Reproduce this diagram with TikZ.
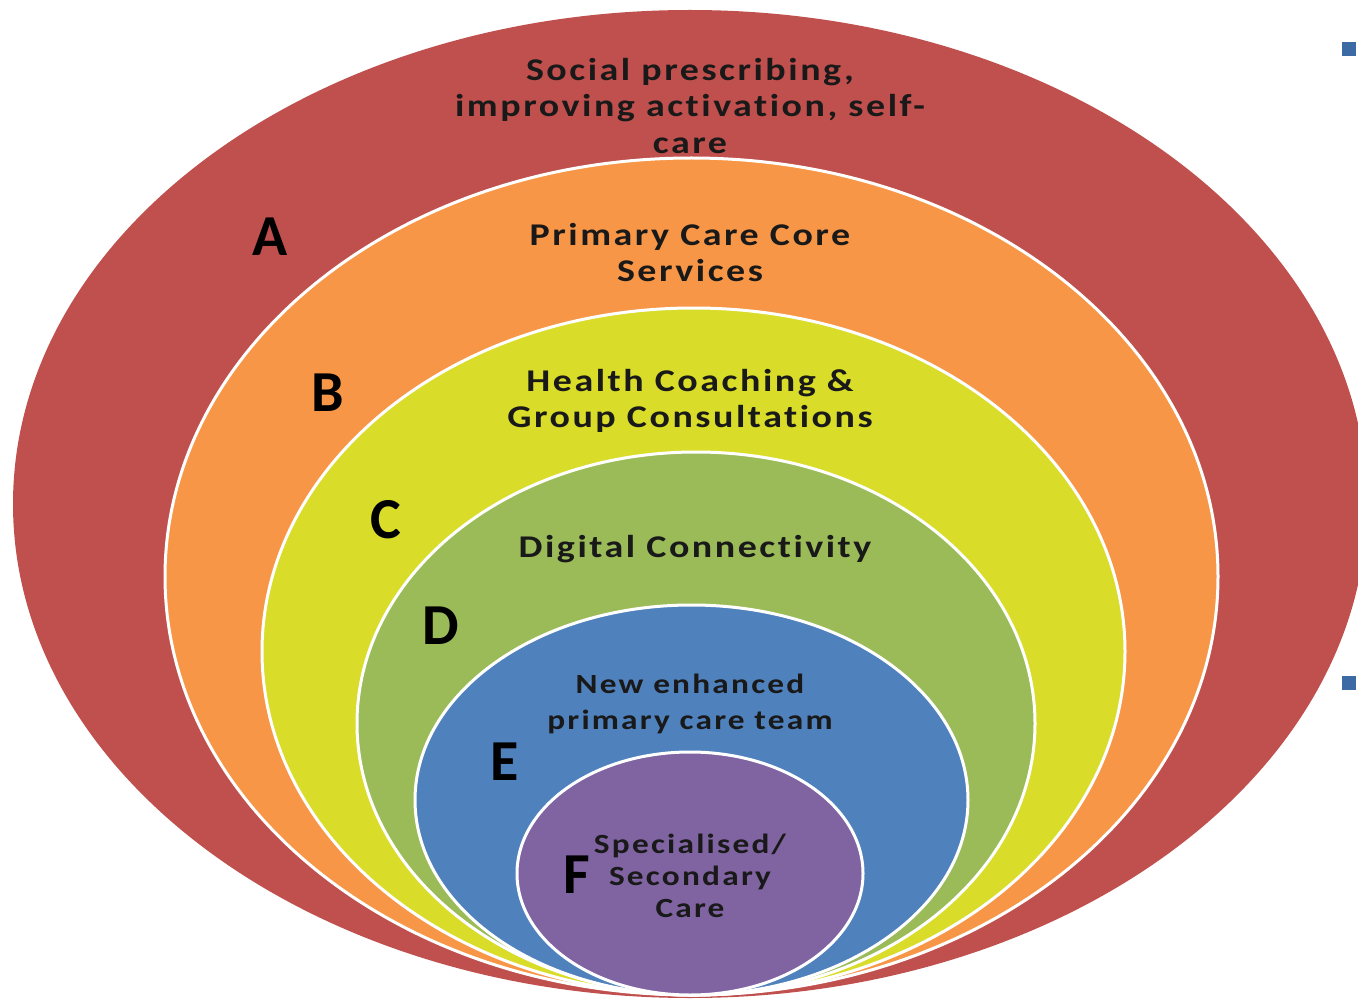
\documentclass[tikz,border=0pt]{standalone}
\usepackage{fontspec}
\setmainfont{Carlito}
\newfontfamily\capfont{Carlito}[FakeStretch=1.2, LetterSpace=8, Ligatures=NoCommon]
\definecolor{ringA}{HTML}{C0504D}
\definecolor{ringB}{HTML}{F79646}
\definecolor{ringC}{HTML}{D9DC28}
\definecolor{ringD}{HTML}{9BBB59}
\definecolor{ringE}{HTML}{4F81BD}
\definecolor{ringF}{HTML}{8064A2}
\definecolor{bullet}{HTML}{3C6AA4}
\tikzset{
  ring/.style={draw=white, line width=0.06cm},
  caption/.style={align=center, font=\capfont\bfseries\fontsize{18}{20.5}\selectfont, text=black!90, inner sep=0pt},
  letter/.style={font=\bfseries\fontsize{33}{36}\selectfont, inner sep=0pt}
}
\begin{document}
\begin{tikzpicture}
            \useasboundingbox (0,0) rectangle (27.160000,19.960000);
            \clip (0,0) rectangle (27.160000,19.960000);

            % Drawing ellipse A
            \fill [ringA] (13.800000,9.880000) ellipse (13.540000 and 9.880000);%

            % Drawing ellipse B
            \filldraw [ring, fill=ringB] (13.830000,8.430000) ellipse (10.530000 and 8.370000);%

            % Drawing ellipse C
            \filldraw [ring, fill=ringC] (13.870000,6.930000) ellipse (8.630000 and 6.870000);%

            % Drawing ellipse D
            \filldraw [ring, fill=ringD] (13.920000,5.490000) ellipse (6.780000 and 5.430000);%

            % Drawing ellipse E
            \filldraw [ring, fill=ringE] (13.830000,3.960000) ellipse (5.530000 and 3.900000);%

            % Drawing ellipse F
            \filldraw [ring, fill=ringF] (13.800000,2.490000) ellipse (3.460000 and 2.430000);%

            % Marking the captions
            \node [caption] (capA) at (13.800000,17.840000) {Social prescribing,\\ improving activation, self-\\ care};%
            \node [caption] (capB) at (13.800000,14.900000) {Primary Care Core\\ Services};%
            \node [caption] (capC) at (13.800000,11.950000) {Health Coaching \&\\ Group Consultations};%
            \node [caption] (capD) at (13.900000,8.980000) {Digital Connectivity};%
            \node [caption, font=\capfont\bfseries\fontsize{15.8}{20.5}\selectfont] (capE) at (13.800000,5.880000) {New enhanced\\ primary care team};%
            \node [caption, font=\capfont\bfseries\fontsize{15.8}{18.2}\selectfont] (capF) at (13.800000,2.440000) {Specialised/\\ Secondary\\ Care};%

            % Marking the letters
            \node [letter] (letA) at (5.400000,15.220000) {A};%
            \node [letter] (letB) at (6.560000,12.100000) {B};%
            \node [letter] (letC) at (7.720000,9.560000) {C};%
            \node [letter] (letD) at (8.820000,7.440000) {D};%
            \node [letter] (letE) at (10.100000,4.720000) {E};%
            \node [letter] (letF) at (11.540000,2.460000) {F};%

            % Marking the bullets
            \fill [bullet] (26.840000,18.840000) rectangle (27.120000,19.120000);%
            \fill [bullet] (26.840000,6.160000) rectangle (27.120000,6.440000);%
\end{tikzpicture}
\end{document}
